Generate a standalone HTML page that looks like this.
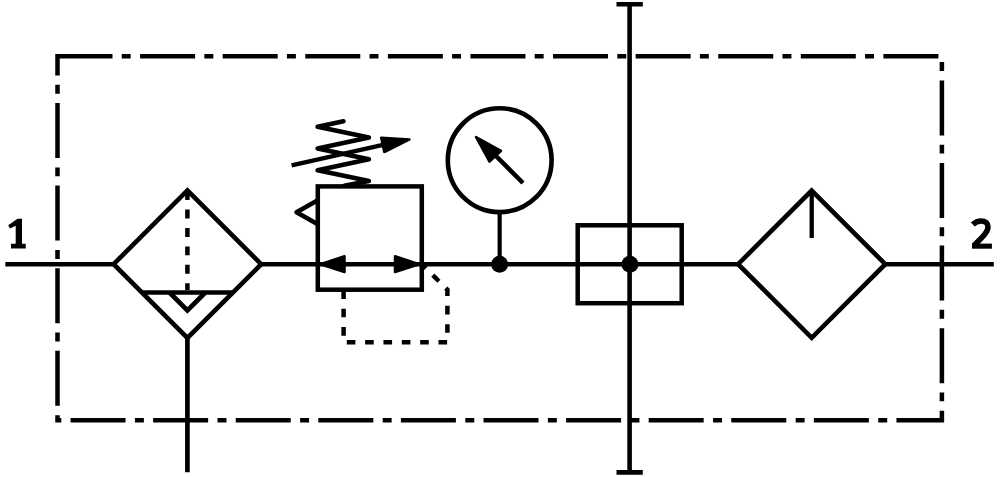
<!DOCTYPE html>
<html>
<head>
<meta charset="utf-8">
<style>
html,body{margin:0;padding:0;background:#fff;}
body{width:1000px;height:477px;overflow:hidden;font-family:"Liberation Sans",sans-serif;}
svg{display:block;}
</style>
</head>
<body>
<svg width="1000" height="477" viewBox="0 0 1000 477">
<g fill="none" stroke="#000" stroke-width="4.5" stroke-linecap="butt" stroke-linejoin="miter">
  <!-- dash-dot enclosure -->
  <path d="M57.5 56.3 H941.9 V420.3 H57.5 Z" stroke-width="4.5" stroke-dasharray="55 9.25 8.95 9.39"/>

  <!-- main line -->
  <path d="M5.3 264.2 H113.6 M261.2 264.2 H738.1 M885.3 264.2 H993.8" stroke-width="4.4"/>

  <!-- left filter diamond -->
  <path d="M187.4 190.4 L261.2 264.2 L187.4 338 L113.6 264.2 Z" stroke-width="4.6"/>
  <path d="M142 292.5 H233"/>
  <path d="M169.5 292.5 L187.4 310.4 L205.3 292.5" stroke-width="4.6"/>
  <path d="M187.4 191.2 V290" stroke-dasharray="8.9 9.5"/>
  <path d="M187.4 338 V472.3" stroke-width="4.7"/>

  <!-- regulator -->
  <rect x="317.8" y="186.4" width="104" height="103.3"/>
  <path d="M317.8 200.3 L296.5 212.2 L317.8 224.2" stroke-linejoin="round"/>
  <path d="M343.45 121.3 L317.6 126.7 L368.9 137.6 L317.6 148.4 L368.9 159.3 L317.6 170.2 L368.9 181 L344.3 185.8" stroke-width="4.6" stroke-linejoin="round" stroke-linecap="round"/>
  <path d="M291.6 165.4 L383 144.8" stroke-width="4.4"/>
  <!-- pilot dashed line -->
  <path d="M421.8 264.2 L447.4 289.8 V342.2 H343.6 V289.5" stroke-dasharray="8.6 9.74" stroke-dashoffset="2.79"/>

  <!-- gauge -->
  <circle cx="499.7" cy="160.2" r="51.9" stroke-width="4.6"/>
  <path d="M499.65 212 V264" stroke-width="4.2"/>
  <path d="M523 183 L490 150" stroke-width="4.5"/>

  <!-- lubricator box -->
  <rect x="577.7" y="225.3" width="104" height="77.9" stroke-width="4.5"/>
  <path d="M629.6 4.1 V472.4" stroke-width="4.6"/>
  <path d="M616.5 4.2 H642.8 M616.5 472.4 H642.8" stroke-width="4.6"/>

  <!-- right filter diamond -->
  <path d="M811.7 190.6 L885.3 264.2 L811.7 337.8 L738.1 264.2 Z" stroke-width="4.6"/>
  <path d="M811.7 190.6 V238" stroke-width="4.3"/>
</g>
<g fill="#000" stroke="#000" stroke-linejoin="round" stroke-width="2.5">
  <!-- arrowheads -->
  <path d="M409.5 139.5 L381.2 137.7 L384.3 152.1 Z"/>
  <path d="M320.5 264.2 L344.5 256.3 L344.5 272 Z"/>
  <path d="M419 264.2 L395 256.3 L395 272 Z"/>
  <path d="M476 137 L501 150.8 L489.5 161.6 Z"/>
</g>
<g fill="#000">
  <circle cx="499.65" cy="264.3" r="8.5"/>
  <circle cx="629.95" cy="264.2" r="8.5"/>
  <!-- "1" -->
  <path d="M22 218.7 L22 243.7 L25.7 243.7 L25.7 248.5 L11 248.5 L11 243.7 L15.7 243.7 L15.7 225.8 L10 228.6 L8.2 225.2 L17.5 218.7 Z"/>
  <!-- "2" base -->
  <path d="M972 243.6 H991.9 V248.7 H972 Z"/>
</g>
<path d="M972.8 224.6 C975.3 222.2 978 221 981 221 C985.6 221 988 223.5 988 227 C988 230.8 985.6 233.7 981.8 237.6 L974 245.5" fill="none" stroke="#000" stroke-width="5.6" stroke-linejoin="round"/>
</svg>
</body>
</html>
